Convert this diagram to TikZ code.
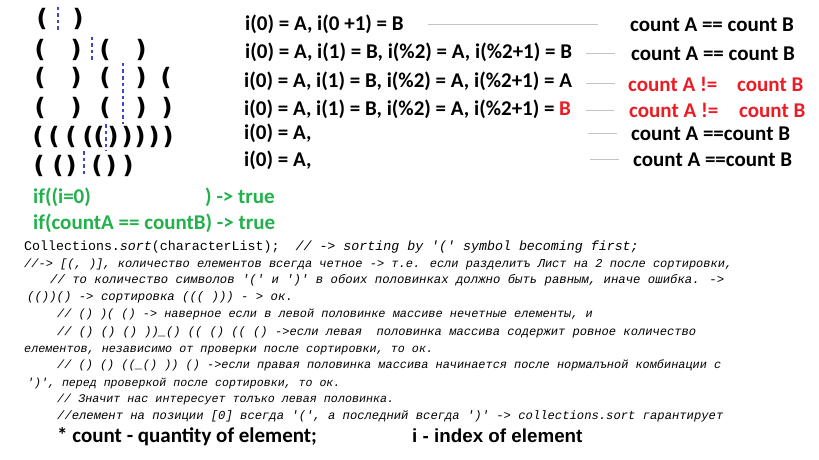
\documentclass[tikz,border=0pt]{standalone}
\usepackage{fontspec}
\setmainfont{Carlito}
\newfontfamily\mono{Liberation Mono}
\newfontfamily\arialf{Liberation Sans}
\newfontfamily\parf{DejaVu Sans}
\newcommand\fsz[1]{\fontsize{#1}{#1}\selectfont}
\newcommand\qq{\textquotesingle}
\definecolor{pgreen}{HTML}{22B14C}
\definecolor{pred}{HTML}{ED1C24}
\definecolor{pblue}{HTML}{3F48CC}
\definecolor{lgray}{HTML}{C3C3C3}
\begin{document}
\begin{tikzpicture}[x=1pt,y=-1pt,
  par/.style={font=\parf\bfseries\fsz{24}, inner sep=0pt, anchor=center},
  rowt/.style={font=\bfseries\fsz{21}, inner sep=0pt, anchor=base west},
  grn/.style={rowt, text=pgreen},
  redt/.style={rowt, text=pred},
  code/.style={font=\mono, inner sep=0pt, anchor=base west},
  sepline/.style={draw=lgray, line width=0.9pt},
  cutline/.style={draw=pblue, line width=1.1pt, dash pattern=on 3.5pt off 3pt}]
\useasboundingbox[fill=white] (0,0) rectangle (819,460);

% parentheses rows
\node[par] (a1) at (42,19) {(};
\node[par] (a2) at (78,19) {)};
\node[par] (b1) at (40,50) {(};
\node[par] (b2) at (76,50) {)};
\node[par] (b3) at (105,50) {(};
\node[par] (b4) at (141,50) {)};
\node[par] (c1) at (40,78) {(};
\node[par] (c2) at (76,78) {)};
\node[par] (c3) at (105,78) {(};
\node[par] (c4) at (141,78) {)};
\node[par] (c5) at (166,78) {(};
\node[par] (d1) at (40,108) {(};
\node[par] (d2) at (76,108) {)};
\node[par] (d3) at (105,108) {(};
\node[par] (d4) at (141,108) {)};
\node[par] (d5) at (167,108) {)};
\node[par] (e1) at (38,137) {(};
\node[par] (e2) at (54,137) {(};
\node[par] (e3) at (71,137) {(};
\node[par] (e4) at (88,137) {(};
\node[par] (e5) at (99,137) {(};
\node[par] (e6) at (113,137) {)};
\node[par] (e7) at (127,137) {)};
\node[par] (e8) at (140,137) {)};
\node[par] (e9) at (154,137) {)};
\node[par] (e10) at (168,137) {)};
\node[par] (f1) at (39,166) {(};
\node[par] (f2) at (58,166) {(};
\node[par] (f3) at (71,166) {)};
\node[par] (f4) at (97,166) {(};
\node[par] (f5) at (111,166) {)};
\node[par] (f6) at (128,166) {)};

% dashed split marks
\coordinate (k1t) at (58,7);   \coordinate (k1b) at (58,32);
\coordinate (k2t) at (92,37);  \coordinate (k2b) at (92,62);
\coordinate (k3t) at (123,63); \coordinate (k3b) at (123,124);
\coordinate (k4t) at (106,124);\coordinate (k4b) at (106,151);
\coordinate (k5t) at (84,151); \coordinate (k5b) at (84,177);
\draw[cutline] (k1t) -- (k1b);
\draw[cutline] (k2t) -- (k2b);
\draw[cutline] (k3t) -- (k3b);
\draw[cutline] (k4t) -- (k4b);
\draw[cutline] (k5t) -- (k5b);

% index rows
\node[rowt] (t1) at (245,31) {i(0) = A, i(0 +1) = B};
\node[rowt] (t2) at (245,59) {i(0) = A, i(1) = B, i(\%2) = A, i(\%2+1) = B};
\node[rowt] (t3) at (244,88) {i(0) = A, i(1) = B, i(\%2) = A, i(\%2+1) = A};
\node[rowt] (t4) at (244,115) {i(0) = A, i(1) = B, i(\%2) = A, i(\%2+1) = \textcolor{pred}{B}};
\node[rowt] (t5) at (244,139) {i(0) = A,};
\node[rowt] (t6) at (244,166) {i(0) = A,};

% results
\node[rowt] (r1) at (630,32) {count A == count B};
\node[rowt] (r2) at (631,61) {count A == count B};
\node[redt] (r3a) at (628,91) {count A !=};
\node[redt] (r3b) at (737,91) {count B};
\node[redt] (r4a) at (629,117) {count A !=};
\node[redt] (r4b) at (739,117) {count B};
\node[rowt] (r5) at (631,140) {count A ==count B};
\node[rowt] (r6) at (633,166) {count A ==count B};

% separators
\coordinate (s1a) at (428,24);  \coordinate (s1b) at (598,24);
\coordinate (s2a) at (586,53);  \coordinate (s2b) at (615,53);
\coordinate (s3a) at (586,83);  \coordinate (s3b) at (615,83);
\coordinate (s4a) at (586,110); \coordinate (s4b) at (614,110);
\coordinate (s5a) at (588,133); \coordinate (s5b) at (617,133);
\coordinate (s6a) at (590,159); \coordinate (s6b) at (619,159);
\draw[sepline] (s1a) -- (s1b);
\draw[sepline] (s2a) -- (s2b);
\draw[sepline] (s3a) -- (s3b);
\draw[sepline] (s4a) -- (s4b);
\draw[sepline] (s5a) -- (s5b);
\draw[sepline] (s6a) -- (s6b);

% green conditions
\node[grn] (g1) at (33,203) {if((i=0)};
\node[grn] (g1b) at (205,203) {) -> true};
\node[grn] (g2) at (33,229) {if(countA == countB) -> true};

% code comments
\node[code] (l1) at (24,250) {\fsz{13.3}Collections.\textit{sort}(characterList);\ \ \textit{// -> sorting by \qq(\qq{} symbol becoming first;}};
\node[code] (l2) at (24,267) {\fsz{12.0}\itshape //-> [(, )], количество елементов всегда четное -> т.е. если разделитъ Лист на 2 после сортировки,};
\node[code] (l3) at (50,283) {\fsz{12.3}\itshape // то количество символов \qq(\qq{} и \qq)\qq{} в обоих половинках должно быть равным, иначе ошибка. ->};
\node[code] (l4) at (27,300) {\fsz{12.3}\itshape (())() -> сортировка ((( ))) - > ок.};
\node[code] (l5) at (57,317) {\fsz{11.9}\itshape // () )( () -> наверное если в левой половинке массиве нечетные елементы, и};
\node[code] (l6) at (57,335) {\fsz{12.1}\itshape // () () () ))\_() (( () (( () ->если левая\ \ половинка массива содержит ровное количество};
\node[code] (l7) at (24,352) {\fsz{11.75}\itshape елементов, независимо от проверки после сортировки, то ок.};
\node[code] (l8) at (57,368) {\fsz{11.9}\itshape // () () ((\_() )) () ->если правая половинка массива начинается после нормалъной комбинации с};
\node[code] (l9) at (27,386) {\fsz{11.6}\itshape \qq)\qq, перед проверкой после сортировки, то ок.};
\node[code] (l10) at (57,402) {\fsz{11.7}\itshape // Значит нас интересует толъко левая половинка.};
\node[code] (l11) at (57,419) {\fsz{12.2}\itshape //елемент на позиции [0] всегда \qq(\qq, а последний всегда \qq)\qq{} -> collections.sort гарантирует};

% legend
\node[rowt] (n1) at (57,442) {* count - quantity of element;};
\node[inner sep=0pt, anchor=base west, font=\arialf\bfseries\fsz{18.8}] (n2) at (412,442) {i - index of element};
\end{tikzpicture}
\end{document}
